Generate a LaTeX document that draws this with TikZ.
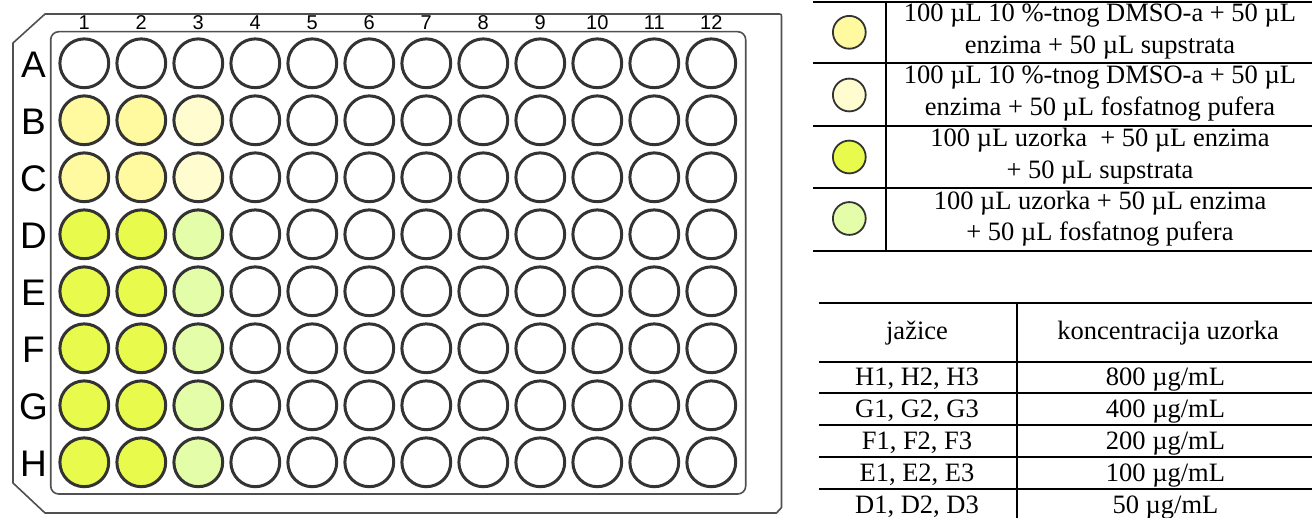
\documentclass[tikz,border=0pt]{standalone}
\usepackage{fontspec}
\setmainfont{Liberation Serif}
\newfontfamily\arialf{Liberation Sans}
\definecolor{plategray}{RGB}{80,80,80}
\definecolor{wellgray}{RGB}{51,51,51}
\definecolor{yel}{RGB}{255,249,160}
\definecolor{paleyel}{RGB}{255,253,208}
\definecolor{grn}{RGB}{232,251,76}
\definecolor{palegrn}{RGB}{228,253,168}
\colorlet{c00}{white}\colorlet{c01}{white}\colorlet{c02}{white}
\colorlet{c10}{white}\colorlet{c11}{yel}\colorlet{c12}{paleyel}
\colorlet{c20}{white}\colorlet{c21}{grn}\colorlet{c22}{palegrn}
\begin{document}
\begin{tikzpicture}[x=1pt,y=-1pt,
  plate/.style={draw=plategray, line width=1.6pt},
  well/.style={circle, draw=wellgray, line width=3pt, minimum size=48.8pt, inner sep=0pt},
  collab/.style={font=\arialf\fontsize{20}{20}\selectfont, anchor=base, inner sep=0pt},
  rowlab/.style={font=\arialf\fontsize{37}{37}\selectfont, anchor=base, inner sep=0pt},
  tabline/.style={line width=2pt, draw=black},
  legdot/.style={circle, draw=wellgray, line width=1.8pt, minimum size=32.8pt, inner sep=0pt},
  legtext/.style={font=\fontsize{26.5}{31.6}\selectfont, align=center, inner sep=0pt},
  celltext/.style={font=\fontsize{26.5}{31.6}\selectfont, anchor=base, inner sep=0pt}]
\useasboundingbox[fill=white] (0,0) rectangle (1312,518);

% plate outline
\draw[plate, line join=round] (13,43) -- (45,14) -- (777.5,14) .. controls (781.5,14) .. (781.5,18)
  -- (781.5,507.5) -- (776.5,513) -- (45,513) -- (13,483) -- cycle;
\draw[plate, rounded corners=8pt] (50.7,31.7) rectangle (745.7,494);

% column labels
\foreach \c in {1,...,12}
  \node[collab] (col-\c) at ({84.3+57*(\c-1)}, 30) {\c};

% rows and wells
\foreach \r/\k [count=\i from 0] in {A/0,B/1,C/1,D/2,E/2,F/2,G/2,H/2} {
  \node[rowlab] (lab-\r) at (33.5, {63.3+57*\i+14.5}) {\r};
  \foreach \c in {1,...,12} {
    \pgfmathtruncatemacro\t{\c<=2 ? 1 : (\c==3 ? 2 : 0)}
    \node[well, fill=c\k\t] (w-\r\c) at ({84.3+57*(\c-1)}, {63.3+57*\i}) {};
  }
}

% legend table
\foreach \y in {2,63.5,126,188.5,251}
  \draw[tabline] (813,\y) -- (1312,\y);
\draw[tabline] (886,2) -- (886,251);
\node[legdot, fill=yel] (ld1) at (849.3,32.3) {};
\node[legdot, fill=paleyel] (ld2) at (849.3,95) {};
\node[legdot, fill=grn] (ld3) at (849.3,157) {};
\node[legdot, fill=palegrn] (ld4) at (849.3,218.5) {};
\node[legtext] (lt1) at (1100,31.5) {100 µL 10 \%-tnog DMSO-a + 50 µL\\enzima + 50 µL supstrata};
\node[legtext] (lt2) at (1100,93.8) {100 µL 10 \%-tnog DMSO-a + 50 µL\\enzima + 50 µL fosfatnog pufera};
\node[legtext] (lt3) at (1100,156.3) {100 µL uzorka~ + 50 µL enzima\\+ 50 µL supstrata};
\node[legtext] (lt4) at (1100,218.8) {100 µL uzorka + 50 µL enzima\\+ 50 µL fosfatnog pufera};

% concentration table
\foreach \y in {302.7,361.7,393.3,425.3,457.3,489.3}
  \draw[tabline] (819,\y) -- (1312,\y);
\draw[tabline] (1016.7,302.7) -- (1016.7,518);
\node[celltext] (h1) at (917,340) {jažice};
\node[celltext] (h2) at (1168,340) {koncentracija uzorka};
\foreach \w/\v/\yc [count=\n] in {H/800/377.5, G/400/409.5, F/200/441.3, E/100/473.3, D/50/505.5} {
  \node[celltext] (wl-\n) at (917,\yc+8) {\w1, \w2, \w3};
  \node[celltext] (cv-\n) at (1165.5,\yc+8) {\v{} µg/mL};
}
\end{tikzpicture}
\end{document}
